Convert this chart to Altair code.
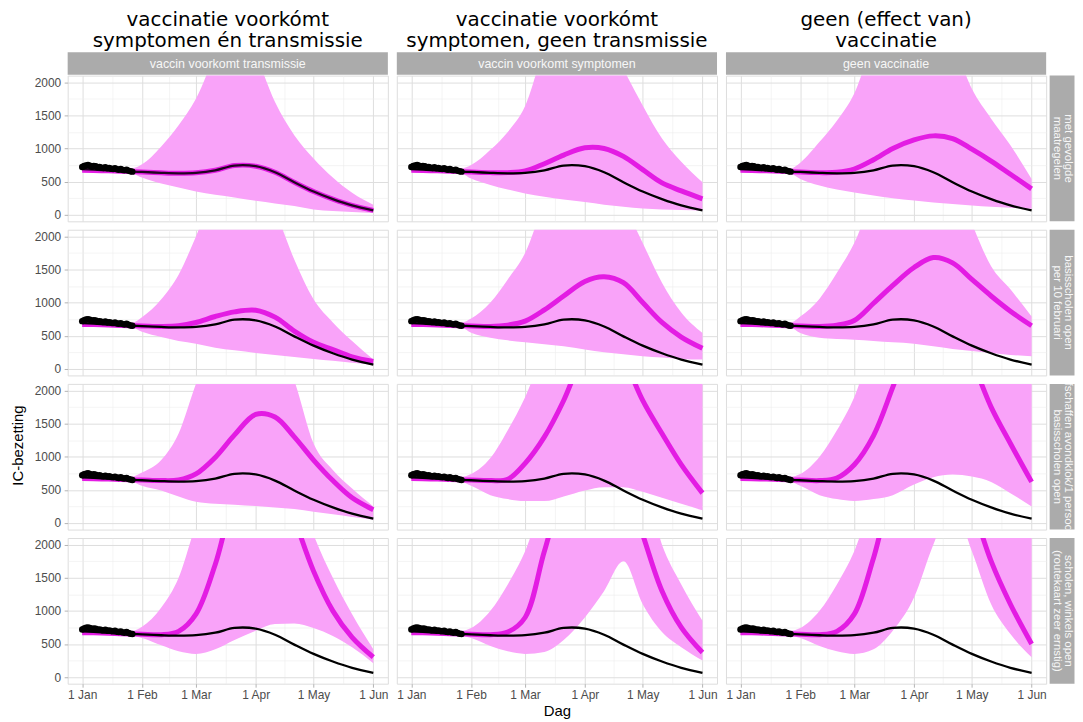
import altair as alt
import pandas as pd

YEAR = 2021
DAYS = [0, 10, 20, 26, 31, 41, 50, 59, 69, 79, 90, 100, 110, 120, 130, 140, 151]

OBS_VALUES = [720, 735, 745, 750, 740, 725, 735, 730, 715, 720, 710, 705, 715, 700,
              705, 695, 690, 700, 685, 680, 690, 675, 670, 680, 665, 655, 650]

BLACK_LINE = [690, 675, 660, 650, 645, 632, 625, 632, 670, 742, 732, 640, 490, 350, 235, 140, 65]

EARLY_MID = [670, 665, 655, 650]
EARLY_LO = [640, 640, 630, 620]
EARLY_HI = [700, 705, 700, 700]

COL_TITLES = [["vaccinatie voorkómt", "symptomen én transmissie"],
              ["vaccinatie voorkómt", "symptomen, geen transmissie"],
              ["geen (effect van)", "vaccinatie"]]
COL_STRIPS = ["vaccin voorkomt transmissie", "vaccin voorkomt symptomen", "geen vaccinatie"]
ROW_STRIPS = [["met gevolgde", "maatregelen"],
              ["basisscholen open", "per 10 februari"],
              ["afschaffen avondklok/1 persoon", "basisscholen open"],
              ["scholen, winkels open", "(routekaart zeer ernstig)"]]

# values from day 31 onward (DAYS[4:])
MID_11 = [645, 632, 625, 632, 670, 742, 732, 640, 490, 350, 235, 140, 65]
MID_12 = [645, 635, 635, 660, 770, 900, 1010, 1000, 880, 680, 480, 360, 240]
MID_13 = [645, 635, 640, 690, 830, 1000, 1130, 1190, 1150, 990, 810, 610, 390]
MID_21 = [648, 640, 650, 700, 790, 860, 885, 780, 570, 400, 290, 180, 110]
MID_22 = [648, 640, 660, 720, 890, 1100, 1320, 1390, 1300, 1000, 700, 480, 310]
MID_23 = [648, 640, 660, 730, 990, 1260, 1530, 1680, 1600, 1350, 1100, 870, 650]
MID_31 = [648, 640, 650, 740, 990, 1330, 1640, 1600, 1300, 950, 640, 380, 200]
MID_32 = [648, 640, 660, 900, 1300, 1850, 2600, 3000, 2500, 1850, 1350, 880, 450]
MID_33 = [648, 640, 680, 880, 1320, 2050, 2900, 3100, 3000, 2450, 1750, 1200, 620]
MID_41 = [648, 640, 690, 950, 1700, 2700, 3200, 3200, 2400, 1600, 1000, 600, 300]
MID_42 = [648, 640, 680, 900, 1900, 2800, 3200, 3300, 3000, 2150, 1300, 750, 370]
MID_43 = [648, 640, 690, 950, 1800, 2800, 3200, 3300, 3300, 2600, 1750, 1100, 500]

LO_11 = [560, 470, 410, 350, 300, 260, 210, 170, 130, 80, 55, 40, 25]
LO_12 = [545, 450, 380, 320, 270, 230, 190, 150, 120, 95, 80, 70, 60]
LO_13 = [540, 440, 380, 335, 290, 250, 215, 185, 160, 140, 120, 105, 90]
LO_21 = [560, 480, 420, 380, 320, 280, 240, 210, 180, 150, 120, 90, 60]
LO_22 = [545, 470, 430, 400, 370, 340, 290, 250, 220, 190, 170, 150, 140]
LO_23 = [540, 470, 450, 440, 420, 400, 380, 340, 300, 270, 240, 210, 190]
LO_31 = [560, 490, 400, 320, 290, 275, 255, 235, 210, 170, 130, 90, 50]
LO_32 = [560, 420, 360, 330, 330, 400, 490, 540, 540, 470, 380, 290, 190]
LO_33 = [560, 420, 360, 330, 360, 420, 580, 690, 730, 700, 620, 450, 250]
LO_41 = [590, 480, 390, 350, 420, 560, 700, 800, 810, 740, 620, 450, 210]
LO_42 = [590, 470, 390, 350, 380, 560, 900, 1300, 1750, 1100, 680, 450, 250]
LO_43 = [590, 470, 390, 350, 420, 700, 1200, 2000, 2600, 1900, 1100, 650, 300]

HI_11 = [760, 1030, 1350, 1750, 2400, 2800, 2400, 1700, 1200, 850, 560, 330, 150]
HI_12 = [750, 980, 1250, 1640, 2500, 3000, 3000, 2800, 2200, 1650, 1150, 800, 490]
HI_13 = [786, 1100, 1420, 1830, 2600, 3000, 3000, 3000, 2600, 1900, 1450, 1050, 540]
HI_21 = [780, 1050, 1420, 2000, 2700, 3000, 3000, 2400, 1650, 1050, 700, 420, 140]
HI_22 = [760, 1000, 1350, 1750, 2500, 3000, 3000, 3000, 2500, 1900, 1300, 850, 540]
HI_23 = [790, 1060, 1450, 1900, 2600, 3000, 3000, 3000, 3000, 2200, 1550, 1200, 790]
HI_31 = [760, 950, 1350, 2100, 2800, 3000, 3000, 2800, 2150, 1200, 800, 520, 250]
HI_32 = [740, 980, 1400, 1900, 2600, 3000, 3000, 3000, 3000, 3000, 3000, 2800, 2400]
HI_33 = [740, 1000, 1400, 1900, 2700, 3000, 3000, 3000, 3000, 3000, 3000, 3000, 3000]
HI_41 = [760, 1050, 1500, 2300, 3000, 3000, 3000, 3000, 3000, 2150, 1500, 950, 420]
HI_42 = [740, 1000, 1400, 1900, 2700, 3000, 3000, 3000, 3000, 3000, 2000, 1400, 850]
HI_43 = [740, 1000, 1400, 1900, 2700, 3000, 3000, 3000, 3000, 3000, 3000, 3000, 3000]

MIDS = [[MID_11, MID_12, MID_13], [MID_21, MID_22, MID_23],
        [MID_31, MID_32, MID_33], [MID_41, MID_42, MID_43]]
LOS = [[LO_11, LO_12, LO_13], [LO_21, LO_22, LO_23],
       [LO_31, LO_32, LO_33], [LO_41, LO_42, LO_43]]
HIS = [[HI_11, HI_12, HI_13], [HI_21, HI_22, HI_23],
       [HI_31, HI_32, HI_33], [HI_41, HI_42, HI_43]]

# ---------------- style ----------------
W, H = 322, 146.5
SW = 25
BAND = "#f9a3f9"
MAGENTA = "#e31ce3"
STRIP = "#ababab"
GRID_MAJ = "#dedede"
GRID_MIN = "#ececec"
AXIS_TXT = "#4d4d4d"
SANS = "Liberation Sans"
TITLE_FONT = "DejaVu Sans"


def day_str(d):
    return (pd.Timestamp(YEAR, 1, 1) + pd.Timedelta(days=d)).strftime("%Y-%m-%dT%H:%M:%S")


obs_df = pd.DataFrame({"date": [day_str(i) for i in range(len(OBS_VALUES))], "val": OBS_VALUES})

XSCALE = alt.Scale(domain=[alt.DateTime(year=2020, month=12, date=24, hours=11),
                           alt.DateTime(year=2021, month=6, date=8, hours=13)], nice=False)
YSCALE = alt.Scale(domain=[-100, 2100], nice=False, zero=False)

X_VALUES = ([alt.DateTime(year=YEAR, month=m, date=1) for m in range(1, 7)] +
            [alt.DateTime(year=YEAR, month=1, date=16, hours=12),
             alt.DateTime(year=YEAR, month=2, date=15),
             alt.DateTime(year=YEAR, month=3, date=16, hours=12),
             alt.DateTime(year=YEAR, month=4, date=16),
             alt.DateTime(year=YEAR, month=5, date=16, hours=12)])
Y_VALUES = [0, 250, 500, 750, 1000, 1250, 1500, 1750, 2000]

XT = "date(datum.value) === 1"
YT = "datum.value % 500 === 0"


def xaxis(show, title):
    kw = dict(values=X_VALUES, labels=show, ticks=show, domain=False, labelFlush=False,
              labelExpr="date(datum.value) === 1 ? timeFormat(datum.value, '%-d %b') : ''",
              labelFont=SANS, labelFontSize=12, labelColor=AXIS_TXT, labelPadding=2,
              tickSize=3.5, tickColor="#b3b3b3",
              tickOpacity={"condition": {"test": XT, "value": 1}, "value": 0},
              gridColor={"condition": {"test": XT, "value": GRID_MAJ}, "value": GRID_MIN},
              gridWidth={"condition": {"test": XT, "value": 1}, "value": 0.6})
    if title:
        kw.update(title=title, titleFont=SANS, titleFontSize=15, titleFontWeight="normal",
                  titleColor="black", titlePadding=3)
    else:
        kw.update(title=None)
    return alt.Axis(**kw)


def yaxis(show):
    return alt.Axis(values=Y_VALUES, labels=show, ticks=show, domain=False, title=None,
                    format="d", labelExpr="datum.value % 500 === 0 ? datum.label : ''",
                    labelFont=SANS, labelFontSize=12, labelColor=AXIS_TXT, labelPadding=3.5,
                    tickSize=3.5, tickColor="#b3b3b3",
                    tickOpacity={"condition": {"test": YT, "value": 1}, "value": 0},
                    gridColor={"condition": {"test": YT, "value": GRID_MAJ}, "value": GRID_MIN},
                    gridWidth={"condition": {"test": YT, "value": 1}, "value": 0.6})


def panel(r, c):
    df = pd.DataFrame({
        "date": [day_str(d) for d in DAYS],
        "black": BLACK_LINE,
        "mid": EARLY_MID + MIDS[r][c],
        "lo": EARLY_LO + LOS[r][c],
        "hi": EARLY_HI + HIS[r][c],
    })
    last = r == 3
    xa = xaxis(last, "Dag" if (last and c == 1) else None)
    ya = yaxis(c == 0)

    def X():
        return alt.X("date:T", scale=XSCALE, axis=xa)

    def Y(f):
        return alt.Y(f, scale=YSCALE, axis=ya)

    base = alt.Chart(df)
    band = base.mark_area(color=BAND, opacity=1, clip=True, interpolate="monotone").encode(
        x=X(), y=Y("lo:Q"), y2="hi:Q")
    mid = base.mark_line(color=MAGENTA, strokeWidth=5, clip=True,
                         interpolate="catmull-rom").encode(x=X(), y=Y("mid:Q"))
    blk = base.mark_line(color="black", strokeWidth=2.3, opacity=0.85 if (r == 0 and c == 0) else 1,
                         clip=True, interpolate="catmull-rom").encode(x=X(), y=Y("black:Q"))
    pts = alt.Chart(obs_df).mark_circle(color="black", size=42, opacity=1).encode(
        x=X(), y=Y("val:Q"))
    layers = [band, mid, blk, pts]
    props = dict(width=W, height=H)
    if r == 0:
        sdf = pd.DataFrame({"label": [COL_STRIPS[c]]})
        rect = alt.Chart(sdf).mark_rect(color=STRIP).encode(
            x=alt.value(0), x2=alt.value(W), y=alt.value(-23.5), y2=alt.value(-1))
        txt = alt.Chart(sdf).mark_text(color="#f7f7f7", font=SANS, fontSize=12.5).encode(
            x=alt.value(W / 2), y=alt.value(-12), text="label:N")
        layers += [rect, txt]
        props["title"] = alt.TitleParams(text=COL_TITLES[c], font=TITLE_FONT, fontSize=20,
                                         fontWeight="normal", color="black", lineHeight=21,
                                         anchor="middle", frame="group", offset=1)
    return alt.layer(*layers).properties(**props)


def row_strip(r):
    df = pd.DataFrame({"l1": [ROW_STRIPS[r][0]], "l2": [ROW_STRIPS[r][1]]})
    rect = alt.Chart(df).mark_rect(color=STRIP).encode(
        x=alt.value(0), x2=alt.value(SW), y=alt.value(0), y2=alt.value(H))
    t1 = alt.Chart(df).mark_text(angle=90, color="#f7f7f7", font=SANS, fontSize=11.5,
                                 baseline="middle", clip=True).encode(
        x=alt.value(SW / 2 + 5.5), y=alt.value(H / 2), text="l1:N")
    t2 = alt.Chart(df).mark_text(angle=90, color="#f7f7f7", font=SANS, fontSize=11.5,
                                 baseline="middle", clip=True).encode(
        x=alt.value(SW / 2 - 5.5), y=alt.value(H / 2), text="l2:N")
    return alt.layer(rect, t1, t2).properties(width=SW, height=H,
                                              view=alt.ViewBackground(strokeOpacity=0))


rows = []
for r in range(4):
    rows.append(alt.hconcat(panel(r, 0), panel(r, 1),
                            alt.hconcat(panel(r, 2), row_strip(r), spacing=2.5),
                            spacing=7))
grid = alt.vconcat(*rows, spacing=7)

ytitle = alt.Chart(pd.DataFrame({"t": ["IC-bezetting"]})).mark_text(
    angle=270, font=SANS, fontSize=15, color="black").encode(
    x=alt.value(10), y=alt.value(372), text="t:N").properties(
    width=20, height=600, view=alt.ViewBackground(strokeOpacity=0))

chart = alt.hconcat(ytitle, grid, spacing=5).properties(
    padding={"left": 0, "top": 0, "right": 0, "bottom": 0}
).configure_view(stroke="#c4c4c4", strokeWidth=1).configure(background="white")

chart.save("out.html", embed_options={"renderer": "svg", "actions": False})
